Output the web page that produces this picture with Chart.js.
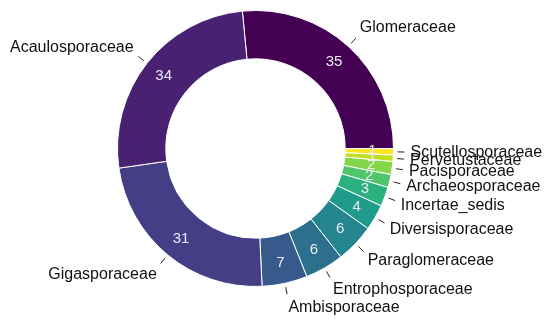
<!DOCTYPE html>
<html>
<head>
<meta charset="utf-8">
<script src="https://cdn.jsdelivr.net/npm/chart.js@4.4.1/dist/chart.umd.min.js"></script>
<style>
  html, body { margin: 0; padding: 0; background: #fff; }
  #wrap { width: 550px; height: 327px; }
</style>
</head>
<body>
<div id="wrap"><canvas id="chart" width="550" height="327"></canvas></div>
<script>
// families, clockwise from the one ending at 3 o'clock
const families = [
  "Glomeraceae", "Scutellosporaceae", "Pervetustaceae", "Pacisporaceae",
  "Archaeosporaceae", "Incertae_sedis", "Diversisporaceae", "Paraglomeraceae",
  "Entrophosporaceae", "Ambisporaceae", "Gigasporaceae", "Acaulosporaceae",
];
const counts = [35, 1, 1, 2, 2, 3, 4, 6, 6, 7, 31, 34];
const colors = [
  "#440154", "#FDE725", "#C2DF23", "#85D54A", "#51C56A", "#2BB07F",
  "#1E9B8A", "#25858E", "#2D708E", "#38598C", "#433E85", "#482173",
];

const total = counts.reduce((a, b) => a + b, 0);
// first slice ends exactly at 3 o'clock
const startRotation = 90 - (360 * counts[0]) / total;

const FONT = '"Liberation Sans", Arial, sans-serif';

const labelPlugin = {
  id: "ringLabels",
  afterDatasetsDraw(chart) {
    const ctx = chart.ctx;
    const meta = chart.getDatasetMeta(0);
    ctx.save();
    meta.data.forEach((arc, i) => {
      const { x, y, startAngle, endAngle, innerRadius, outerRadius } = arc.getProps(
        ["x", "y", "startAngle", "endAngle", "innerRadius", "outerRadius"], true
      );
      const mid = (startAngle + endAngle) / 2;
      const cs = Math.cos(mid);
      const sn = Math.sin(mid);

      // value inside the ring
      const rv = (innerRadius + outerRadius) / 2 + 3;
      ctx.fillStyle = "#ececf4";
      ctx.font = "15px " + FONT;
      ctx.textAlign = "center";
      ctx.textBaseline = "middle";
      ctx.fillText(String(counts[i]), x + rv * cs, y + rv * sn);

      // leader tick
      ctx.strokeStyle = "#222";
      ctx.lineWidth = 1;
      ctx.beginPath();
      ctx.moveTo(x + (outerRadius + 4) * cs, y + (outerRadius + 4) * sn);
      ctx.lineTo(x + (outerRadius + 11) * cs, y + (outerRadius + 11) * sn);
      ctx.stroke();

      // family name outside
      const rl = outerRadius + 17;
      const ax = x + rl * cs;
      const ay = y + rl * sn;
      ctx.fillStyle = "#111";
      ctx.font = "16px " + FONT;
      ctx.textAlign = cs >= 0 ? "left" : "right";
      ctx.fillText(families[i], ax, ay + 8 * sn);
    });
    ctx.restore();
  },
};

new Chart(document.getElementById("chart"), {
  type: "doughnut",
  data: {
    labels: families,
    datasets: [
      {
        data: counts,
        backgroundColor: colors,
        borderColor: "#ffffff",
        borderWidth: 1,
      },
    ],
  },
  options: {
    responsive: false,
    animation: false,
    rotation: startRotation,
    cutout: "65%",
    layout: { padding: { left: 117, right: 156, top: 10, bottom: 40 } },
    plugins: { legend: { display: false }, tooltip: { enabled: false } },
  },
  plugins: [labelPlugin],
});
</script>
</body>
</html>
